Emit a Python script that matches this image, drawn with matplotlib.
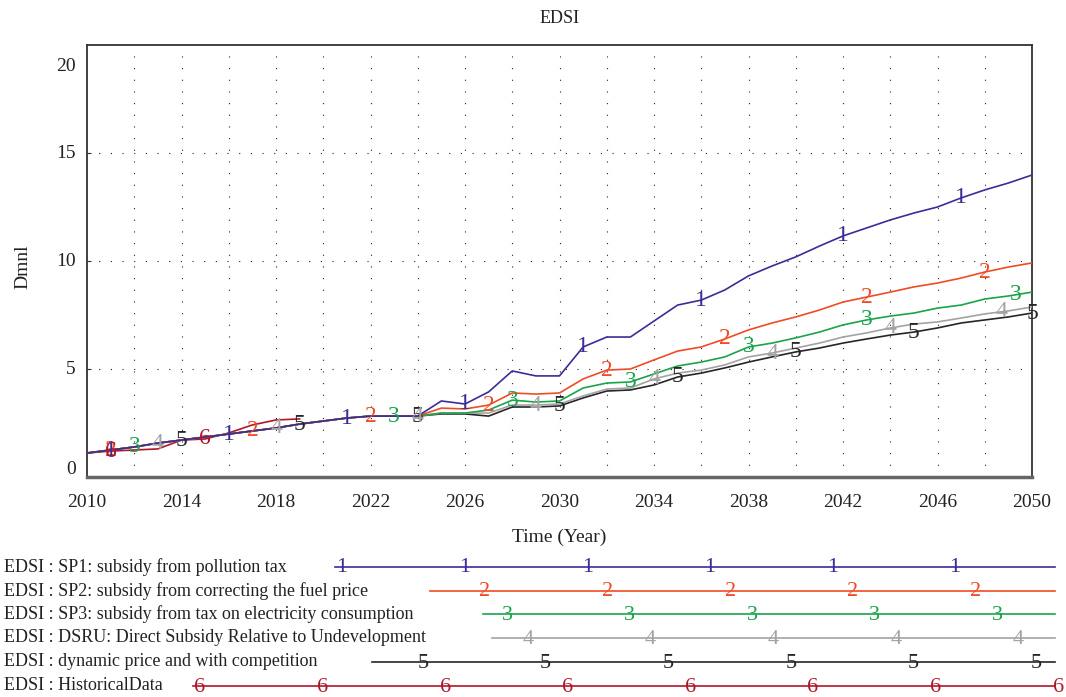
#!/usr/bin/env python3
# ======================================================
# EDSI scenario comparison (Vensim-style output plot)
# ======================================================
import numpy as np
import matplotlib.pyplot as plt

plt.rcParams['font.family'] = ['Liberation Serif', 'DejaVu Serif']

# ------------------------------------------------------
# Data
# ------------------------------------------------------
years = np.arange(2010, 2051)

common = [1.11, 1.25, 1.39, 1.57, 1.71, 1.85, 1.99, 2.13, 2.27, 2.45,
          2.59, 2.73, 2.82, 2.82, 2.82]  # 2010-2024, identical for all scenarios

sp1_tail = [3.52, 3.38, 3.94, 4.91, 4.68, 4.68, 6.02, 6.48, 6.48, 7.22,
            7.96, 8.19, 8.66, 9.31, 9.77, 10.19, 10.69, 11.16, 11.53, 11.90,
            12.22, 12.50, 12.92, 13.29, 13.61, 13.98]
sp2_tail = [3.19, 3.15, 3.33, 3.89, 3.84, 3.89, 4.54, 4.95, 5.00, 5.42,
            5.83, 6.02, 6.39, 6.81, 7.13, 7.41, 7.73, 8.10, 8.33, 8.56,
            8.80, 8.98, 9.21, 9.49, 9.72, 9.91]
sp3_tail = [2.96, 2.96, 3.10, 3.56, 3.47, 3.52, 4.12, 4.35, 4.40, 4.77,
            5.14, 5.32, 5.56, 6.02, 6.20, 6.44, 6.71, 7.04, 7.27, 7.45,
            7.59, 7.82, 7.96, 8.24, 8.38, 8.56]
dsru_tail = [2.96, 2.96, 2.96, 3.33, 3.33, 3.38, 3.75, 4.07, 4.12, 4.54,
             4.81, 4.95, 5.19, 5.56, 5.74, 5.97, 6.20, 6.48, 6.67, 6.90,
             7.08, 7.18, 7.36, 7.55, 7.69, 7.87]
dyn_tail = [2.92, 2.92, 2.82, 3.24, 3.24, 3.29, 3.66, 3.98, 4.03, 4.26,
            4.63, 4.81, 5.05, 5.32, 5.56, 5.79, 5.97, 6.20, 6.39, 6.57,
            6.71, 6.90, 7.13, 7.27, 7.41, 7.59]

hist_years = np.arange(2010, 2020)
hist_vals = [1.11, 1.20, 1.25, 1.30, 1.71, 1.76, 2.04, 2.41, 2.64, 2.69]

sp1 = common + sp1_tail
sp2 = common + sp2_tail
sp3 = common + sp3_tail
dsru = common + dsru_tail
dyn = common + dyn_tail

names = [
    "EDSI : SP1: subsidy from pollution tax",
    "EDSI : SP2: subsidy from correcting the fuel price",
    "EDSI : SP3: subsidy from tax on electricity consumption",
    "EDSI : DSRU: Direct Subsidy Relative to Undevelopment",
    "EDSI : dynamic price and with competition",
    "EDSI : HistoricalData",
]
colors = ["#3a2d98", "#f04b24", "#19a44b", "#a3a3a3", "#262626", "#b0172b"]

# years where the series number is written on the line
label_years = [
    [2011, 2016, 2021, 2026, 2031, 2036, 2042, 2047],
    [2011, 2017, 2022, 2027, 2032, 2037, 2043, 2048],
    [2012, 2023, 2028, 2033, 2038, 2043, 2049.3],
    [2013, 2018, 2024, 2029, 2034, 2039, 2044, 2048.7],
    [2014, 2019, 2024, 2030, 2035, 2040, 2045, 2050],
    [2011, 2015],
]

series = [(years, sp1), (years, sp2), (years, sp3), (years, dsru),
          (years, dyn), (hist_years, hist_vals)]

# ------------------------------------------------------
# Figure
# ------------------------------------------------------
W, H = 1066, 697
fig = plt.figure(figsize=(W / 100, H / 100), dpi=100)
ax = fig.add_axes([87 / W, 1 - 477 / H, (1032 - 87) / W, (477 - 45) / H])
ax.set_xlim(2010, 2050)
ax.set_ylim(0, 20)

# dotted grid
dots = (0, (1, 9.5))
for yr in range(2012, 2050, 2):
    ax.axvline(yr, color="#222222", lw=0.8, ls=dots, zorder=0)
for v in (5, 10, 15):
    ax.axhline(v, color="#222222", lw=0.8, ls=dots, zorder=0)

# lines, SP1 drawn last among scenarios so it sits on top of shared part
order = [4, 3, 2, 1, 0, 5]
for i in order:
    xs, ys = series[i]
    ax.plot(xs, ys, color=colors[i], lw=1.2, zorder=2 + (5 - i))
    for ly in label_years[i]:
        ax.text(ly, np.interp(ly, xs, ys), str(i + 1), color=colors[i],
                fontsize=17, ha="center", va="center", zorder=10)

# frame
for s in ("left", "top", "right"):
    ax.spines[s].set_color("#333333")
    ax.spines[s].set_linewidth(1.3)
ax.spines["bottom"].set_color("#666666")
ax.spines["bottom"].set_linewidth(2.5)

ax.set_xticks(range(2010, 2051, 4))
ax.tick_params(axis="x", length=0, labelsize=14, pad=12, colors="#222222")
ax.set_yticks([5, 10, 15])
ax.set_yticklabels([])
ax.tick_params(axis="y", direction="in", length=3, color="#333333")

# y labels are offset the Vensim way (0 and 20 pulled inside)
for v, txt in [(0.35, "0"), (5, "5"), (10, "10"), (15, "15"), (19, "20")]:
    ax.text(-0.012, v, txt, transform=ax.get_yaxis_transform(),
            ha="right", va="center", fontsize=14, color="#222222")

ax.set_title("EDSI", fontsize=13, pad=16, color="#222222")
fig.text(23 / W, 1 - 267 / H, "Dmnl", rotation=90, ha="center", va="center",
         fontsize=14, color="#222222")
fig.text(559 / W, 1 - 537 / H, "Time (Year)", ha="center", va="center",
         fontsize=14, color="#222222")

# ------------------------------------------------------
# Legend block (pixel coordinates)
# ------------------------------------------------------
lax = fig.add_axes([0, 0, 1, 1])
lax.set_xlim(0, W)
lax.set_ylim(H, 0)
lax.axis("off")

row_y = [567, 591, 614, 638, 662, 686]
line_x0 = [335, 430, 483, 492, 372, 193]
mark_x0 = [342, 485, 507, 528, 423, 200]
for i in range(6):
    lax.text(4, row_y[i], names[i], fontsize=13, ha="left", va="center",
             color="#222222")
    lax.plot([line_x0[i], 1055], [row_y[i], row_y[i]], color=colors[i], lw=1.2)
    for mx in np.arange(mark_x0[i], 1060, 122.6):
        lax.text(mx, row_y[i] + 1, str(i + 1), color=colors[i], fontsize=16,
                 ha="center", va="center")

fig.savefig("out.png", dpi=100)
